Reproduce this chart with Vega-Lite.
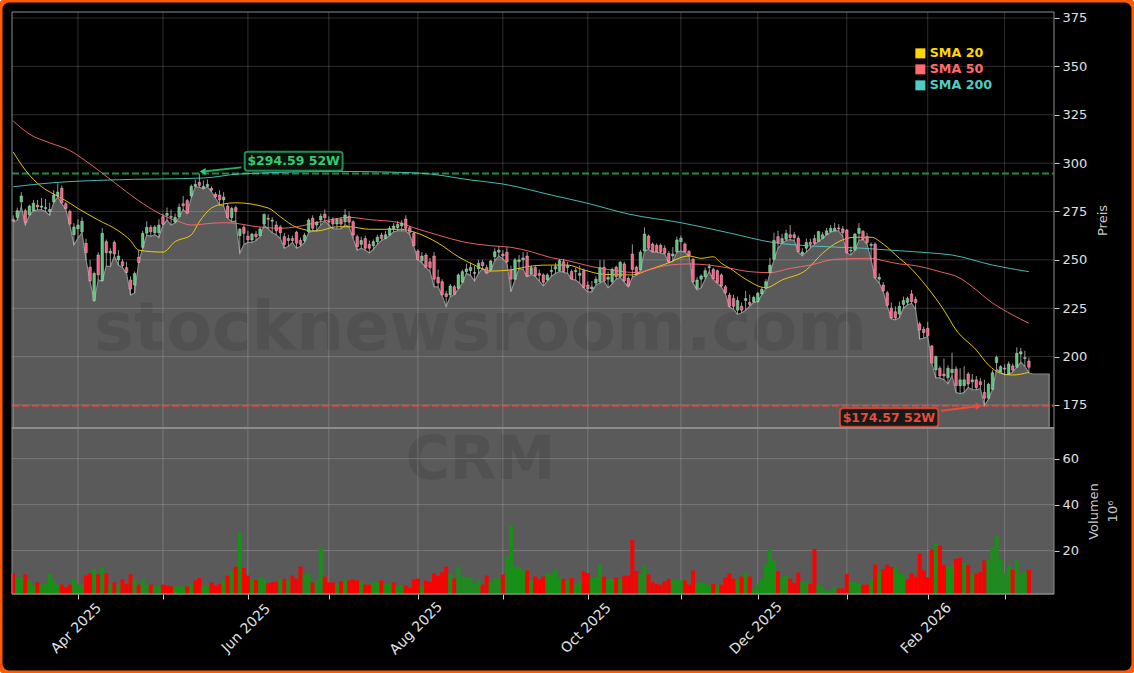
{"$schema":"https://vega.github.io/schema/vega-lite/v6.json","width":1134,"height":673,"padding":0,"autosize":{"type":"none"},"background":"#ffffff",
"config":{"font":"DejaVu Sans","view":{"stroke":"#ff5a00","strokeWidth":5,"cornerRadius":9,"fill":"#000000"}},
"datasets":{
"bars":[
{"t":0,"o":271,"h":273,"l":269.5,"c":270,"v":10.1,"dir":"down"},{"t":1,"o":272,"h":277,"l":270.5,"c":275.4,"v":8.1,"dir":"up"},{"t":2,"o":280,"h":285,"l":277.5,"c":283,"v":8.1,"dir":"up"},{"t":3,"o":275.4,"h":276.5,"l":268,"c":269.4,"v":9.6,"dir":"down"},{"t":4,"o":273.2,"h":278.5,"l":273,"c":277.8,"v":7,"dir":"up"},{"t":5,"o":275.5,"h":281,"l":275.3,"c":279.3,"v":4.8,"dir":"up"},{"t":6,"o":278.3,"h":281,"l":275.8,"c":277.3,"v":6.1,"dir":"down"},{"t":7,"o":277.2,"h":282,"l":275.8,"c":277.8,"v":5.2,"dir":"up"},{"t":8,"o":276.5,"h":281.5,"l":275,"c":277,"v":5.5,"dir":"up"},{"t":9,"o":275,"h":279.5,"l":273,"c":276,"v":9.9,"dir":"up"},
{"t":10,"o":280,"h":286,"l":279.5,"c":283.5,"v":7,"dir":"up"},{"t":11,"o":283,"h":289.5,"l":282.5,"c":285,"v":5,"dir":"up"},{"t":12,"o":287,"h":288.5,"l":279,"c":279.5,"v":5.2,"dir":"down"},{"t":13,"o":279,"h":280,"l":276,"c":276.5,"v":4,"dir":"down"},{"t":14,"o":275,"h":276,"l":268,"c":268.5,"v":5.2,"dir":"down"},{"t":15,"o":263,"h":269,"l":257.7,"c":267,"v":7.7,"dir":"up"},{"t":16,"o":266,"h":271,"l":261.3,"c":268,"v":5.2,"dir":"up"},{"t":17,"o":264.5,"h":272,"l":264,"c":270,"v":5.2,"dir":"up"},{"t":18,"o":258.6,"h":261,"l":250,"c":253.7,"v":9.1,"dir":"down"},{"t":19,"o":246.2,"h":250,"l":238.7,"c":239.2,"v":10.1,"dir":"down"},
{"t":20,"o":229,"h":244,"l":228.4,"c":243,"v":12,"dir":"up"},{"t":21,"o":252.5,"h":254,"l":239.6,"c":242.2,"v":9.6,"dir":"down"},{"t":22,"o":239.3,"h":266.5,"l":239,"c":263.7,"v":12.5,"dir":"up"},{"t":23,"o":259.4,"h":260.5,"l":246.8,"c":253.7,"v":10.1,"dir":"down"},{"t":24,"o":253.5,"h":256,"l":246.5,"c":254.5,"v":5.2,"dir":"up"},{"t":25,"o":259,"h":260,"l":252,"c":253,"v":6.1,"dir":"down"},{"t":26,"o":250,"h":255,"l":247.3,"c":252,"v":5.2,"dir":"up"},{"t":27,"o":249,"h":250.5,"l":246,"c":247,"v":7.5,"dir":"down"},{"t":28,"o":246,"h":249,"l":243,"c":243.5,"v":5.5,"dir":"down"},{"t":29,"o":239.6,"h":241.5,"l":231.8,"c":235,"v":9.6,"dir":"down"},
{"t":30,"o":237,"h":244,"l":232.8,"c":243,"v":7,"dir":"up"},{"t":31,"o":251.3,"h":255,"l":248.5,"c":248.7,"v":5.2,"dir":"down"},{"t":32,"o":256.5,"h":265,"l":256,"c":263.7,"v":7.7,"dir":"up"},{"t":33,"o":263.8,"h":270,"l":262.8,"c":266.8,"v":5.2,"dir":"up"},{"t":34,"o":266.8,"h":268,"l":262.2,"c":264.5,"v":5.2,"dir":"down"},{"t":35,"o":264,"h":268,"l":263,"c":267,"v":4.4,"dir":"up"},{"t":36,"o":264,"h":271,"l":261.5,"c":268,"v":4.8,"dir":"up"},{"t":37,"o":272.3,"h":274,"l":268,"c":268.4,"v":5.2,"dir":"down"},{"t":38,"o":273,"h":277,"l":270.6,"c":274,"v":4.8,"dir":"down"},{"t":39,"o":272,"h":276,"l":268,"c":272.5,"v":4.4,"dir":"down"},
{"t":40,"o":269.5,"h":274,"l":269,"c":272,"v":4.4,"dir":"up"},{"t":41,"o":272.3,"h":279,"l":272,"c":277.2,"v":4.4,"dir":"up"},{"t":42,"o":279,"h":283,"l":276,"c":278,"v":4.4,"dir":"up"},{"t":43,"o":280.6,"h":281.5,"l":274,"c":274.1,"v":4.4,"dir":"down"},{"t":44,"o":283,"h":289,"l":282,"c":288,"v":5.5,"dir":"up"},{"t":45,"o":288,"h":291.5,"l":287.8,"c":289,"v":7,"dir":"down"},{"t":46,"o":290,"h":294.6,"l":287.5,"c":288.5,"v":8.1,"dir":"down"},{"t":47,"o":287,"h":291,"l":286.6,"c":288,"v":4.8,"dir":"up"},{"t":48,"o":288,"h":291.5,"l":287.8,"c":289,"v":4.4,"dir":"up"},{"t":49,"o":287,"h":288,"l":285.2,"c":286,"v":6.1,"dir":"down"},
{"t":50,"o":284,"h":285,"l":282,"c":282.5,"v":4.8,"dir":"down"},{"t":51,"o":283.5,"h":286,"l":278.4,"c":281,"v":5.5,"dir":"down"},{"t":52,"o":281,"h":285,"l":277.8,"c":282.5,"v":7,"dir":"up"},{"t":53,"o":277.8,"h":279,"l":271.5,"c":271.8,"v":9.1,"dir":"down"},{"t":54,"o":271.8,"h":277.5,"l":269.8,"c":276.6,"v":10.6,"dir":"up"},{"t":55,"o":277,"h":278,"l":270,"c":275,"v":13,"dir":"down"},{"t":56,"o":262.5,"h":266.5,"l":253.4,"c":265.8,"v":27.7,"dir":"up"},{"t":57,"o":266.8,"h":268,"l":258,"c":263.7,"v":12.5,"dir":"down"},{"t":58,"o":262.3,"h":265,"l":259,"c":260.3,"v":9.1,"dir":"down"},{"t":59,"o":260.3,"h":264,"l":259,"c":263.3,"v":7.7,"dir":"up"},
{"t":60,"o":263.3,"h":265,"l":260,"c":262,"v":7.2,"dir":"down"},{"t":61,"o":262.5,"h":267,"l":262,"c":266,"v":8.4,"dir":"up"},{"t":62,"o":268.5,"h":274,"l":268,"c":273.5,"v":7.7,"dir":"up"},{"t":63,"o":271.5,"h":273.5,"l":266,"c":271,"v":5.8,"dir":"down"},{"t":64,"o":270,"h":272,"l":264,"c":270.5,"v":6.2,"dir":"down"},{"t":65,"o":268,"h":270,"l":263,"c":265,"v":6.5,"dir":"down"},{"t":66,"o":267,"h":268,"l":261,"c":264,"v":7.7,"dir":"up"},{"t":67,"o":262,"h":264,"l":256,"c":258,"v":7.7,"dir":"down"},{"t":68,"o":261,"h":263,"l":257,"c":260,"v":7.2,"dir":"up"},{"t":69,"o":261,"h":262.5,"l":259,"c":260,"v":9.1,"dir":"down"},
{"t":70,"o":264.3,"h":265,"l":256,"c":258.6,"v":7.7,"dir":"down"},{"t":71,"o":260,"h":261.5,"l":257,"c":258,"v":13,"dir":"down"},{"t":72,"o":259.9,"h":264,"l":259,"c":262.8,"v":9.6,"dir":"up"},{"t":73,"o":264.5,"h":271.5,"l":264,"c":270.6,"v":9.9,"dir":"up"},{"t":74,"o":271.5,"h":273,"l":265,"c":266.3,"v":6.1,"dir":"down"},{"t":75,"o":268,"h":270,"l":265,"c":269.5,"v":7,"dir":"up"},{"t":76,"o":270.6,"h":274,"l":268,"c":272.6,"v":21.4,"dir":"up"},{"t":77,"o":273.6,"h":276,"l":270,"c":271.8,"v":8.7,"dir":"down"},{"t":78,"o":270,"h":272.5,"l":268,"c":269.5,"v":6.2,"dir":"down"},{"t":79,"o":271,"h":272,"l":266,"c":268.5,"v":6.1,"dir":"down"},
{"t":80,"o":268.5,"h":271.5,"l":266,"c":271,"v":5.2,"dir":"up"},{"t":81,"o":271,"h":272,"l":266,"c":268.5,"v":6.7,"dir":"down"},{"t":82,"o":269.7,"h":276.3,"l":268,"c":273.2,"v":7,"dir":"up"},{"t":83,"o":272.5,"h":275,"l":267,"c":269.5,"v":7,"dir":"down"},{"t":84,"o":269.7,"h":270.5,"l":261,"c":262.8,"v":7.4,"dir":"down"},{"t":85,"o":262,"h":263,"l":255,"c":256.8,"v":7,"dir":"down"},{"t":86,"o":258,"h":262,"l":256,"c":260,"v":6.2,"dir":"up"},{"t":87,"o":261,"h":262.5,"l":255,"c":256,"v":5.2,"dir":"down"},{"t":88,"o":258,"h":260,"l":253.5,"c":256,"v":5.2,"dir":"down"},{"t":89,"o":257.3,"h":260.5,"l":255.5,"c":259.4,"v":6.2,"dir":"up"},
{"t":90,"o":259.4,"h":263,"l":258,"c":261.7,"v":6.2,"dir":"up"},{"t":91,"o":262.8,"h":264,"l":260,"c":261,"v":7,"dir":"down"},{"t":92,"o":261,"h":265,"l":261,"c":263,"v":5.5,"dir":"up"},{"t":93,"o":262.8,"h":267.5,"l":262.5,"c":266.3,"v":5.5,"dir":"up"},{"t":94,"o":266,"h":269,"l":264.5,"c":267.5,"v":6.1,"dir":"down"},{"t":95,"o":266.7,"h":270,"l":265,"c":268.4,"v":4.4,"dir":"up"},{"t":96,"o":267.5,"h":270.5,"l":265,"c":269,"v":4.9,"dir":"up"},{"t":97,"o":271.1,"h":273,"l":265,"c":266.3,"v":4.9,"dir":"down"},{"t":98,"o":266.6,"h":267.5,"l":263,"c":264.2,"v":3.8,"dir":"down"},{"t":99,"o":263.7,"h":264.5,"l":257,"c":257.3,"v":7.5,"dir":"down"},
{"t":100,"o":254.6,"h":255.5,"l":250,"c":250.2,"v":7.8,"dir":"down"},{"t":101,"o":249.5,"h":254,"l":248.5,"c":252,"v":4.4,"dir":"up"},{"t":102,"o":252.5,"h":253.5,"l":246,"c":246.2,"v":7,"dir":"down"},{"t":103,"o":249,"h":251,"l":244,"c":246,"v":6.4,"dir":"down"},{"t":104,"o":252,"h":254,"l":236,"c":240,"v":10.1,"dir":"down"},{"t":105,"o":241,"h":245,"l":236,"c":238,"v":9,"dir":"down"},{"t":106,"o":238.7,"h":240,"l":231.5,"c":232,"v":10.6,"dir":"down"},{"t":107,"o":232.5,"h":234,"l":225.8,"c":231,"v":13,"dir":"down"},{"t":108,"o":231.8,"h":237.5,"l":231,"c":236.5,"v":10,"dir":"up"},{"t":109,"o":236.1,"h":237,"l":232,"c":232.2,"v":7.8,"dir":"down"},
{"t":110,"o":235.3,"h":243,"l":235,"c":242.2,"v":13,"dir":"up"},{"t":111,"o":238.4,"h":245,"l":238,"c":243.9,"v":8.8,"dir":"up"},{"t":112,"o":243.9,"h":248,"l":243,"c":245.3,"v":8.4,"dir":"up"},{"t":113,"o":244.5,"h":248.5,"l":242,"c":246,"v":8.1,"dir":"up"},{"t":114,"o":243,"h":247,"l":239,"c":243.5,"v":5.5,"dir":"up"},{"t":115,"o":245.3,"h":250,"l":243,"c":248.2,"v":7,"dir":"up"},{"t":116,"o":248.7,"h":250,"l":245.6,"c":247,"v":5.2,"dir":"down"},{"t":117,"o":246,"h":247.5,"l":243,"c":243.2,"v":9.1,"dir":"down"},{"t":118,"o":244.8,"h":250,"l":244.5,"c":249.4,"v":6.4,"dir":"up"},{"t":119,"o":251.6,"h":256,"l":249.5,"c":254.2,"v":8.4,"dir":"up"},
{"t":120,"o":254,"h":257,"l":252,"c":255,"v":7.7,"dir":"up"},{"t":121,"o":253,"h":255,"l":250.5,"c":252,"v":9.6,"dir":"down"},{"t":122,"o":254,"h":256.5,"l":248.4,"c":249,"v":17.4,"dir":"up"},{"t":123,"o":244.8,"h":247,"l":233.5,"c":240,"v":30.7,"dir":"up"},{"t":124,"o":240,"h":251,"l":239.6,"c":250,"v":13,"dir":"up"},{"t":125,"o":249,"h":252.5,"l":245.6,"c":250,"v":12.5,"dir":"up"},{"t":126,"o":250,"h":254,"l":245,"c":251,"v":11.3,"dir":"up"},{"t":127,"o":252,"h":254,"l":241.3,"c":241.5,"v":11.3,"dir":"down"},{"t":128,"o":242.7,"h":247,"l":242.5,"c":246,"v":7,"dir":"up"},{"t":129,"o":246,"h":247,"l":241.5,"c":241.8,"v":8.7,"dir":"down"},
{"t":130,"o":243,"h":245,"l":239,"c":242,"v":7.5,"dir":"down"},{"t":131,"o":242.2,"h":243,"l":236.6,"c":238.4,"v":8.7,"dir":"down"},{"t":132,"o":239.6,"h":243,"l":239,"c":242.2,"v":10.4,"dir":"up"},{"t":133,"o":244,"h":247,"l":241.5,"c":244.5,"v":9.6,"dir":"up"},{"t":134,"o":245.3,"h":248.5,"l":243,"c":246.5,"v":11.9,"dir":"up"},{"t":135,"o":244.4,"h":250.5,"l":244,"c":249.6,"v":8,"dir":"up"},{"t":136,"o":249,"h":250.5,"l":243.5,"c":244,"v":7.7,"dir":"down"},{"t":137,"o":246,"h":249,"l":243,"c":247,"v":7,"dir":"up"},{"t":138,"o":244,"h":245,"l":240,"c":240.1,"v":8.1,"dir":"down"},{"t":139,"o":244,"h":246,"l":239.5,"c":244.5,"v":5.2,"dir":"up"},
{"t":140,"o":242,"h":247,"l":238,"c":243,"v":6.2,"dir":"up"},{"t":141,"o":244.4,"h":245.5,"l":235.5,"c":235.8,"v":11,"dir":"down"},{"t":142,"o":237,"h":239,"l":233.5,"c":235,"v":10.1,"dir":"down"},{"t":143,"o":235,"h":239,"l":233.5,"c":236,"v":8.1,"dir":"up"},{"t":144,"o":238,"h":241.5,"l":237,"c":240,"v":8.4,"dir":"up"},{"t":145,"o":238.7,"h":250,"l":238,"c":246,"v":13.9,"dir":"up"},{"t":146,"o":246.2,"h":250,"l":239,"c":239.2,"v":8.7,"dir":"down"},{"t":147,"o":240,"h":244,"l":235.5,"c":241,"v":7.5,"dir":"up"},{"t":148,"o":238.7,"h":246,"l":237.5,"c":245.1,"v":7.7,"dir":"up"},{"t":149,"o":246.2,"h":247,"l":240,"c":241.3,"v":8.3,"dir":"down"},
{"t":150,"o":241.3,"h":249.5,"l":241,"c":248.7,"v":7.7,"dir":"up"},{"t":151,"o":247.9,"h":249,"l":238.5,"c":239.2,"v":9.1,"dir":"down"},{"t":152,"o":240.5,"h":241.5,"l":236,"c":236.5,"v":9.1,"dir":"down"},{"t":153,"o":253,"h":258,"l":241,"c":245.1,"v":24.6,"dir":"down"},{"t":154,"o":246.2,"h":247,"l":242,"c":243,"v":11,"dir":"down"},{"t":155,"o":244.8,"h":255,"l":244.5,"c":254,"v":10,"dir":"up"},{"t":156,"o":254.6,"h":266.8,"l":254.5,"c":263.3,"v":13.5,"dir":"up"},{"t":157,"o":262.3,"h":263,"l":255.5,"c":256,"v":9.6,"dir":"down"},{"t":158,"o":258.2,"h":259,"l":254,"c":254.2,"v":6.2,"dir":"down"},{"t":159,"o":257.5,"h":258.5,"l":254,"c":254.2,"v":5.5,"dir":"down"},
{"t":160,"o":257.5,"h":258.5,"l":253.5,"c":254.2,"v":5.2,"dir":"down"},{"t":161,"o":256,"h":257.5,"l":253,"c":253.5,"v":6.7,"dir":"down"},{"t":162,"o":253.4,"h":254.5,"l":248.5,"c":249,"v":7.7,"dir":"down"},{"t":163,"o":252,"h":256.6,"l":249,"c":253,"v":7.7,"dir":"up"},{"t":164,"o":254.2,"h":262,"l":254,"c":260.3,"v":7,"dir":"up"},{"t":165,"o":259.4,"h":262.5,"l":254.5,"c":261.2,"v":7.2,"dir":"up"},{"t":166,"o":258.2,"h":259,"l":254,"c":254.2,"v":7,"dir":"down"},{"t":167,"o":254.4,"h":255,"l":252,"c":252.2,"v":5.2,"dir":"down"},{"t":168,"o":250.3,"h":251,"l":238,"c":238.7,"v":11.3,"dir":"down"},{"t":169,"o":235.3,"h":241,"l":234.5,"c":239.6,"v":5.8,"dir":"up"},
{"t":170,"o":240,"h":242.5,"l":235.5,"c":241.7,"v":6.2,"dir":"up"},{"t":171,"o":241.3,"h":246,"l":240,"c":244.4,"v":5.8,"dir":"up"},{"t":172,"o":246,"h":248,"l":244,"c":246.5,"v":4.8,"dir":"up"},{"t":173,"o":245.1,"h":246,"l":240,"c":240.2,"v":5.5,"dir":"down"},{"t":174,"o":244.4,"h":245,"l":238,"c":238.2,"v":4.9,"dir":"up"},{"t":175,"o":242.2,"h":243,"l":236,"c":236.5,"v":5.2,"dir":"down"},{"t":176,"o":236.1,"h":237,"l":232.5,"c":233,"v":8.4,"dir":"down"},{"t":177,"o":231.8,"h":233,"l":225.5,"c":226,"v":10.1,"dir":"down"},{"t":178,"o":230,"h":232,"l":224.5,"c":226,"v":7.7,"dir":"down"},{"t":179,"o":224,"h":231,"l":221.8,"c":229,"v":7.2,"dir":"up"},
{"t":180,"o":226,"h":228,"l":222.5,"c":224,"v":8.7,"dir":"down"},{"t":181,"o":229,"h":234,"l":224,"c":230,"v":10.4,"dir":"up"},{"t":182,"o":228,"h":232,"l":226,"c":227,"v":8.7,"dir":"down"},{"t":183,"o":228.2,"h":231.5,"l":228,"c":230.6,"v":3.3,"dir":"up"},{"t":184,"o":228.4,"h":233.5,"l":228.3,"c":232.7,"v":5.2,"dir":"up"},{"t":185,"o":232.4,"h":236,"l":232,"c":234.8,"v":7.7,"dir":"up"},{"t":186,"o":235.3,"h":240,"l":235.2,"c":238.7,"v":13.9,"dir":"up"},{"t":187,"o":243.4,"h":251,"l":243,"c":247.3,"v":20.7,"dir":"up"},{"t":188,"o":250.3,"h":264,"l":250,"c":260,"v":15.7,"dir":"up"},{"t":189,"o":262,"h":265,"l":256,"c":258.9,"v":11,"dir":"down"},
{"t":190,"o":259,"h":263.5,"l":258.5,"c":261,"v":8.4,"dir":"up"},{"t":191,"o":260.6,"h":265.5,"l":260,"c":263.7,"v":9,"dir":"up"},{"t":192,"o":263,"h":268,"l":260.5,"c":261.5,"v":7.8,"dir":"down"},{"t":193,"o":263,"h":264.5,"l":260,"c":261.5,"v":5.8,"dir":"down"},{"t":194,"o":261.2,"h":262.5,"l":254,"c":254.2,"v":10.4,"dir":"down"},{"t":195,"o":253,"h":256,"l":252,"c":254,"v":6.4,"dir":"up"},{"t":196,"o":256,"h":261,"l":254,"c":259,"v":6.4,"dir":"up"},{"t":197,"o":259,"h":261,"l":256,"c":258,"v":5.5,"dir":"down"},{"t":198,"o":261,"h":263,"l":258,"c":258.5,"v":20.7,"dir":"down"},{"t":199,"o":259.6,"h":265,"l":259.5,"c":264.6,"v":5.2,"dir":"up"},
{"t":200,"o":261,"h":264.5,"l":261,"c":263,"v":4.4,"dir":"up"},{"t":201,"o":263,"h":266.5,"l":263,"c":265,"v":2.3,"dir":"up"},{"t":202,"o":264.6,"h":268,"l":264.3,"c":266.3,"v":2.9,"dir":"up"},{"t":203,"o":265,"h":269.2,"l":265,"c":266.3,"v":4,"dir":"up"},{"t":204,"o":266.5,"h":268.5,"l":265,"c":266,"v":3.5,"dir":"down"},{"t":205,"o":266,"h":267.5,"l":262,"c":264,"v":3.5,"dir":"down"},{"t":206,"o":265.4,"h":266,"l":253.5,"c":253.7,"v":9.9,"dir":"down"},{"t":207,"o":254.5,"h":257,"l":252.5,"c":255,"v":6.4,"dir":"up"},{"t":208,"o":255,"h":264,"l":255,"c":263.3,"v":6.1,"dir":"up"},{"t":209,"o":263.7,"h":269,"l":260,"c":266.3,"v":5.8,"dir":"up"},
{"t":210,"o":264.7,"h":265.5,"l":260.5,"c":260.6,"v":5.2,"dir":"down"},{"t":211,"o":262,"h":264,"l":258,"c":259,"v":5.2,"dir":"down"},{"t":212,"o":257.5,"h":259,"l":250,"c":258,"v":7.5,"dir":"up"},{"t":213,"o":258.2,"h":259,"l":240.5,"c":240.6,"v":13.9,"dir":"down"},{"t":214,"o":240,"h":243,"l":238,"c":241,"v":10.6,"dir":"up"},{"t":215,"o":237,"h":238.5,"l":233.5,"c":234,"v":12,"dir":"down"},{"t":216,"o":233,"h":234,"l":226,"c":226.5,"v":13.9,"dir":"down"},{"t":217,"o":225,"h":228,"l":219.5,"c":220,"v":12.8,"dir":"down"},{"t":218,"o":223.2,"h":226,"l":219,"c":220,"v":12.5,"dir":"up"},{"t":219,"o":222,"h":228.4,"l":220,"c":226,"v":9.9,"dir":"up"},
{"t":220,"o":227,"h":231,"l":225,"c":229,"v":9.6,"dir":"up"},{"t":221,"o":228,"h":231,"l":226.8,"c":230,"v":7.4,"dir":"down"},{"t":222,"o":232.4,"h":234.4,"l":227.5,"c":228.4,"v":10.1,"dir":"down"},{"t":223,"o":229.6,"h":231,"l":224.5,"c":227.9,"v":8.7,"dir":"down"},{"t":224,"o":216.9,"h":218,"l":209,"c":213.8,"v":18.8,"dir":"down"},{"t":225,"o":214.1,"h":215.5,"l":209.5,"c":212.4,"v":11.3,"dir":"down"},{"t":226,"o":214.6,"h":218,"l":210.5,"c":210.8,"v":8.4,"dir":"down"},{"t":227,"o":205.5,"h":206,"l":196.5,"c":196.6,"v":20.4,"dir":"down"},{"t":228,"o":193.1,"h":200.5,"l":189,"c":200,"v":23.2,"dir":"up"},{"t":229,"o":194,"h":195,"l":189,"c":190,"v":22.2,"dir":"down"},
{"t":230,"o":191,"h":199,"l":188,"c":190,"v":13.8,"dir":"down"},{"t":231,"o":189.1,"h":195.5,"l":186,"c":194,"v":12.8,"dir":"up"},{"t":232,"o":191.7,"h":202,"l":190,"c":193.4,"v":13.5,"dir":"up"},{"t":233,"o":193.6,"h":195,"l":181.5,"c":185,"v":16.4,"dir":"down"},{"t":234,"o":185,"h":194,"l":180.8,"c":188,"v":16.8,"dir":"down"},{"t":235,"o":185,"h":195,"l":181.5,"c":188,"v":14.5,"dir":"up"},{"t":236,"o":191,"h":192,"l":184,"c":185.8,"v":13.8,"dir":"down"},{"t":237,"o":187,"h":191,"l":183,"c":188,"v":9.9,"dir":"up"},{"t":238,"o":188,"h":190,"l":182.8,"c":184,"v":9.9,"dir":"down"},{"t":239,"o":187,"h":189,"l":183.5,"c":185.5,"v":10.6,"dir":"down"},
{"t":240,"o":181.5,"h":188,"l":174.6,"c":178.5,"v":15.7,"dir":"down"},{"t":241,"o":178.5,"h":186.5,"l":178,"c":185.7,"v":15.9,"dir":"up"},{"t":242,"o":183.1,"h":193,"l":183,"c":191.7,"v":21.4,"dir":"up"},{"t":243,"o":196.9,"h":200.5,"l":193.5,"c":199.6,"v":26.5,"dir":"up"},{"t":244,"o":192.2,"h":195.5,"l":192,"c":194.8,"v":16.2,"dir":"up"},{"t":245,"o":194,"h":196,"l":190.5,"c":193.5,"v":10,"dir":"up"},{"t":246,"o":191,"h":197.5,"l":190.8,"c":196.2,"v":13.5,"dir":"up"},{"t":247,"o":195.2,"h":196.5,"l":192,"c":193,"v":11.7,"dir":"down"},{"t":248,"o":194.5,"h":204.8,"l":194.4,"c":201.7,"v":15.7,"dir":"up"},{"t":249,"o":201.3,"h":204.5,"l":197,"c":202.5,"v":9.9,"dir":"up"},
{"t":250,"o":199,"h":203,"l":195,"c":199.5,"v":10.9,"dir":"up"},{"t":251,"o":197.7,"h":199.5,"l":191.5,"c":194.5,"v":11.6,"dir":"down"},
{"t":252,"l":191},{"t":253,"l":191},{"t":254,"l":191},{"t":255,"l":191},{"t":256,"l":191}],
"sma":[
{"t":0,"s":"SMA 20","p":305.7},{"t":3,"s":"SMA 20","p":296.4},{"t":7,"s":"SMA 20","p":287.8},{"t":10,"s":"SMA 20","p":284},{"t":13,"s":"SMA 20","p":280.6},{"t":16,"s":"SMA 20","p":276.6},{"t":21,"s":"SMA 20","p":270.6},{"t":26,"s":"SMA 20","p":265},{"t":29,"s":"SMA 20","p":259.9},{"t":31,"s":"SMA 20","p":255},{"t":37,"s":"SMA 20","p":254},{"t":40,"s":"SMA 20","p":259.4},{"t":44,"s":"SMA 20","p":262.9},{"t":46,"s":"SMA 20","p":269.7},{"t":49,"s":"SMA 20","p":276.8},{"t":52,"s":"SMA 20","p":278.9},{"t":55,"s":"SMA 20","p":279.5},{"t":63,"s":"SMA 20","p":276.8},{"t":66,"s":"SMA 20","p":272.3},{"t":70,"s":"SMA 20","p":266.8},{"t":75,"s":"SMA 20","p":264.9},{"t":80,"s":"SMA 20","p":267.1},{"t":83,"s":"SMA 20","p":267.1},{"t":88,"s":"SMA 20","p":265.8},{"t":96,"s":"SMA 20","p":265.8},{"t":99,"s":"SMA 20","p":264.4},{"t":105,"s":"SMA 20","p":258.7},{"t":110,"s":"SMA 20","p":251.6},{"t":114,"s":"SMA 20","p":247.3},{"t":118,"s":"SMA 20","p":244.2},{"t":123,"s":"SMA 20","p":244.8},{"t":127,"s":"SMA 20","p":246.5},{"t":132,"s":"SMA 20","p":247.3},{"t":137,"s":"SMA 20","p":247.3},{"t":141,"s":"SMA 20","p":244.8},{"t":146,"s":"SMA 20","p":242.5},{"t":153,"s":"SMA 20","p":242.2},{"t":157,"s":"SMA 20","p":244.8},{"t":161,"s":"SMA 20","p":247.7},{"t":167,"s":"SMA 20","p":252},{"t":170,"s":"SMA 20","p":250.8},{"t":173,"s":"SMA 20","p":251.6},{"t":175,"s":"SMA 20","p":248.2},{"t":177,"s":"SMA 20","p":245.8},{"t":181,"s":"SMA 20","p":240},{"t":186,"s":"SMA 20","p":235.6},{"t":190,"s":"SMA 20","p":239.6},{"t":196,"s":"SMA 20","p":244.8},{"t":200,"s":"SMA 20","p":253.4},{"t":204,"s":"SMA 20","p":259.4},{"t":208,"s":"SMA 20","p":261.7},{"t":212,"s":"SMA 20","p":261.7},{"t":215,"s":"SMA 20","p":258.2},{"t":219,"s":"SMA 20","p":250.8},{"t":221,"s":"SMA 20","p":247.3},{"t":226,"s":"SMA 20","p":235.5},{"t":230,"s":"SMA 20","p":224},{"t":233,"s":"SMA 20","p":213.8},{"t":238,"s":"SMA 20","p":203.4},{"t":241,"s":"SMA 20","p":195.7},{"t":244,"s":"SMA 20","p":191.4},{"t":247,"s":"SMA 20","p":190.5},{"t":251,"s":"SMA 20","p":191.9},
{"t":0,"s":"SMA 50","p":321.8},{"t":4,"s":"SMA 50","p":315},{"t":9,"s":"SMA 50","p":310.5},{"t":14,"s":"SMA 50","p":306.5},{"t":18,"s":"SMA 50","p":301},{"t":21,"s":"SMA 50","p":296.4},{"t":25,"s":"SMA 50","p":290},{"t":31,"s":"SMA 50","p":280.6},{"t":36,"s":"SMA 50","p":274.1},{"t":41,"s":"SMA 50","p":269.7},{"t":44,"s":"SMA 50","p":268},{"t":49,"s":"SMA 50","p":268.9},{"t":52,"s":"SMA 50","p":269.2},{"t":55,"s":"SMA 50","p":268.9},{"t":59,"s":"SMA 50","p":267.5},{"t":66,"s":"SMA 50","p":266.3},{"t":70,"s":"SMA 50","p":267.1},{"t":76,"s":"SMA 50","p":269.7},{"t":83,"s":"SMA 50","p":272},{"t":88,"s":"SMA 50","p":270.8},{"t":95,"s":"SMA 50","p":269.4},{"t":99,"s":"SMA 50","p":266.6},{"t":105,"s":"SMA 50","p":262.8},{"t":111,"s":"SMA 50","p":259.4},{"t":118,"s":"SMA 50","p":257.3},{"t":123,"s":"SMA 50","p":256.5},{"t":128,"s":"SMA 50","p":254.2},{"t":133,"s":"SMA 50","p":251.1},{"t":137,"s":"SMA 50","p":249.6},{"t":143,"s":"SMA 50","p":246.5},{"t":149,"s":"SMA 50","p":244.4},{"t":154,"s":"SMA 50","p":243.4},{"t":157,"s":"SMA 50","p":244.8},{"t":162,"s":"SMA 50","p":247.3},{"t":167,"s":"SMA 50","p":247.9},{"t":172,"s":"SMA 50","p":247.3},{"t":177,"s":"SMA 50","p":245.7},{"t":182,"s":"SMA 50","p":243.9},{"t":187,"s":"SMA 50","p":243.4},{"t":192,"s":"SMA 50","p":245.6},{"t":197,"s":"SMA 50","p":247.3},{"t":203,"s":"SMA 50","p":250.3},{"t":212,"s":"SMA 50","p":250.8},{"t":215,"s":"SMA 50","p":249.6},{"t":219,"s":"SMA 50","p":247.9},{"t":222,"s":"SMA 50","p":247.3},{"t":229,"s":"SMA 50","p":243.9},{"t":234,"s":"SMA 50","p":240.5},{"t":237,"s":"SMA 50","p":236.1},{"t":242,"s":"SMA 50","p":227.7},{"t":247,"s":"SMA 50","p":221.5},{"t":251,"s":"SMA 50","p":217.2},
{"t":0,"s":"SMA 200","p":287.8},{"t":10,"s":"SMA 200","p":289.9},{"t":24,"s":"SMA 200","p":291.3},{"t":47,"s":"SMA 200","p":292.3},{"t":56,"s":"SMA 200","p":294.4},{"t":80,"s":"SMA 200","p":295.7},{"t":100,"s":"SMA 200","p":294.9},{"t":113,"s":"SMA 200","p":291.3},{"t":121,"s":"SMA 200","p":289.2},{"t":133,"s":"SMA 200","p":283.5},{"t":142,"s":"SMA 200","p":279.2},{"t":152,"s":"SMA 200","p":273.7},{"t":165,"s":"SMA 200","p":269.2},{"t":177,"s":"SMA 200","p":263.9},{"t":188,"s":"SMA 200","p":258.9},{"t":197,"s":"SMA 200","p":257.2},{"t":210,"s":"SMA 200","p":256},{"t":219,"s":"SMA 200","p":254.7},{"t":226,"s":"SMA 200","p":253.7},{"t":232,"s":"SMA 200","p":252.5},{"t":242,"s":"SMA 200","p":247.3},{"t":251,"s":"SMA 200","p":243.9}],
"vticks":[{"t":16},{"t":37},{"t":58},{"t":78},{"t":100},{"t":121},{"t":142},{"t":165},{"t":184},{"t":206},{"t":226},{"t":245}],
"priceGrid":[{"t":-0.3,"t2":257.2,"p":175},{"t":-0.3,"t2":257.2,"p":200},{"t":-0.3,"t2":257.2,"p":225},{"t":-0.3,"t2":257.2,"p":250},{"t":-0.3,"t2":257.2,"p":275},{"t":-0.3,"t2":257.2,"p":300},{"t":-0.3,"t2":257.2,"p":325},{"t":-0.3,"t2":257.2,"p":350},{"t":-0.3,"t2":257.2,"p":375}],
"volGrid":[{"t":-0.3,"t2":257.2,"p":20},{"t":-0.3,"t2":257.2,"p":40},{"t":-0.3,"t2":257.2,"p":60}],
"edges":[{"t":-0.3},{"t":257.2}],
"span":[{"t":-0.3,"t2":257.2}],
"levels":[{"t":-0.3,"t2":257.2,"p":294.59,"kind":"high"},{"t":-0.3,"t2":257.2,"p":174.57,"kind":"low"}],
"boxes":[{"t":57.2,"t2":81.4,"p":305.9,"p2":296.1,"kind":"high"},{"t":204.3,"t2":228.6,"p":173.3,"p2":163.8,"kind":"low"}],
"arrows":[{"t":56.4,"t2":47.5,"p":297.8,"p2":295.8,"kind":"high"},{"t":229.3,"t2":237.9,"p":172,"p2":174.2,"kind":"low"}],
"heads":[{"t":46.8,"p":295.7,"kind":"high"},{"t":238.6,"p":174.4,"kind":"low"}],
"notes":[{"t":69.3,"p":301,"label":"$294.59 52W","kind":"high"},{"t":216.4,"p":168.5,"label":"$174.57 52W","kind":"low"}],
"mark1":[{"t":115.5,"p":214,"label":"stocknewsroom.com"}],
"mark2":[{"t":115.5,"p":59,"label":"CRM"}]
},
"encoding":{"x":{"field":"t","type":"quantitative","scale":{"domain":[-0.3,257.2],"range":[12,1054],"nice":false,"zero":false,"padding":0},"axis":{"title":null,"orient":"bottom","offset":-79,"domain":false,"grid":false,"values":[16,37,58,78,100,121,142,165,184,206,226,245],"labelExpr":"{'16':'Apr 2025','58':'Jun 2025','100':'Aug 2025','142':'Oct 2025','184':'Dec 2025','226':'Feb 2026'}[''+datum.value]||''","labelAngle":-45,"labelAlign":"center","labelBaseline":"middle","labelPadding":29,"labelOffset":-2,"labelFontSize":14,"labelColor":"#e0e0e0","labelOverlap":false,"labelBound":false,"labelFlush":false,"tickColor":"#cccccc","tickSize":5}}},
"resolve":{"scale":{"y":"independent","color":"independent"}},
"layer":[
{"layer":[
{"data":{"name":"bars"},"mark":{"type":"area","fill":"#5a5a5a","stroke":"#8c8c8c","strokeWidth":1.2},"encoding":{"y":{"field":"l","type":"quantitative","scale":{"domain":[163.1,378.1],"range":[428,12],"nice":false,"zero":false},"axis":{"title":"Preis","orient":"right","offset":-80,"grid":false,"domain":false,"values":[175,200,225,250,275,300,325,350,375],"labelFontSize":13,"labelColor":"#e0e0e0","tickColor":"#cccccc","tickSize":5,"labelPadding":3,"titleFontSize":13,"titleFontWeight":"normal","titleColor":"#c8c8c8","titleAngle":-90,"titlePadding":23}},"y2":{"datum":163.1}}},
{"data":{"name":"mark1"},"mark":{"type":"text","font":"DejaVu Sans","fontWeight":"bold","fontSize":67,"fill":"#000000","opacity":0.09},"encoding":{"y":{"field":"p","type":"quantitative"},"text":{"field":"label"}}},
{"data":{"name":"priceGrid"},"mark":{"type":"rule","stroke":"#ffffff","strokeOpacity":0.18,"strokeWidth":1},"encoding":{"x2":{"field":"t2"},"y":{"field":"p","type":"quantitative"}}},
{"data":{"name":"vticks"},"mark":{"type":"rule","stroke":"#ffffff","strokeOpacity":0.18,"strokeWidth":1},"encoding":{"y":{"datum":378.1},"y2":{"datum":163.1}}},
{"data":{"name":"levels"},"mark":{"type":"rule","strokeDash":[7,3],"strokeWidth":2,"opacity":0.8},"encoding":{"x2":{"field":"t2"},"y":{"field":"p","type":"quantitative"},"stroke":{"field":"kind","type":"nominal","legend":null,"scale":{"domain":["high","low"],"range":["#27ae60","#e74c3c"]}}}},
{"data":{"name":"sma"},"mark":{"type":"line","interpolate":"monotone","strokeWidth":1,"opacity":0.9},"encoding":{"y":{"field":"p","type":"quantitative"},"color":{"field":"s","type":"nominal","scale":{"domain":["SMA 20","SMA 50","SMA 200"],"range":["#ffd700","#ff6b6b","#4ecdc4"]},"legend":{"title":null,"orient":"none","legendX":914,"legendY":47,"symbolType":"square","symbolSize":100,"symbolStrokeWidth":0,"rowPadding":2,"labelFontSize":12.7,"labelFontWeight":"bold","labelOffset":3,"encoding":{"symbols":{"fill":{"value":{"expr":"datum.value=='SMA 20'?'#ffd700':datum.value=='SMA 50'?'#ff6b6b':'#4ecdc4'"}},"opacity":{"value":1}},"labels":{"fill":{"value":{"expr":"datum.value=='SMA 20'?'#ffd700':datum.value=='SMA 50'?'#ff6b6b':'#4ecdc4'"}}}}}}}},
{"data":{"name":"bars"},"transform":[{"filter":"isValid(datum.o)"}],"mark":{"type":"rule","stroke":"#bdbdbd","strokeWidth":0.8},"encoding":{"y":{"field":"l","type":"quantitative"},"y2":{"field":"h"}}},
{"data":{"name":"bars"},"transform":[{"filter":"isValid(datum.o)"}],"mark":{"type":"bar","size":2.6,"stroke":"#dddddd","strokeWidth":0.4,"orient":"vertical"},"encoding":{"y":{"field":"o","type":"quantitative"},"y2":{"field":"c"},"color":{"condition":{"test":"datum.c>=datum.o","value":"#58c878"},"value":"#ff5a80"}}},
{"data":{"name":"arrows"},"mark":{"type":"rule","strokeWidth":2},"encoding":{"x2":{"field":"t2"},"y":{"field":"p","type":"quantitative"},"y2":{"field":"p2"},"stroke":{"field":"kind","type":"nominal","legend":null}}},
{"data":{"name":"heads"},"transform":[{"filter":"datum.kind=='high'"}],"mark":{"type":"point","shape":"triangle-left","filled":true,"size":50,"opacity":1},"encoding":{"y":{"field":"p","type":"quantitative"},"fill":{"field":"kind","type":"nominal","legend":null,"scale":{"domain":["high","low"],"range":["#2ecc71","#e74c3c"]}}}},
{"data":{"name":"heads"},"transform":[{"filter":"datum.kind=='low'"}],"mark":{"type":"point","shape":"triangle-right","filled":true,"size":50,"opacity":1},"encoding":{"y":{"field":"p","type":"quantitative"},"fill":{"field":"kind","type":"nominal","legend":null}}},
{"data":{"name":"boxes"},"mark":{"type":"rect","fill":"#101410","fillOpacity":0.9,"strokeWidth":2,"strokeOpacity":0.8,"cornerRadius":3},"encoding":{"x2":{"field":"t2"},"y":{"field":"p","type":"quantitative"},"y2":{"field":"p2"},"stroke":{"field":"kind","type":"nominal","legend":null}}},
{"data":{"name":"notes"},"mark":{"type":"text","font":"DejaVu Sans","fontWeight":"bold","fontSize":12.5},"encoding":{"y":{"field":"p","type":"quantitative"},"text":{"field":"label"},"fill":{"field":"kind","type":"nominal","legend":null}}}
]},
{"layer":[
{"data":{"name":"span"},"mark":{"type":"rect","fill":"#5a5a5a"},"encoding":{"x2":{"field":"t2"},"y":{"datum":1.1,"type":"quantitative","scale":{"domain":[1.1,73.3],"range":[594,428],"nice":false,"zero":false},"axis":{"title":["Volumen","10⁶"],"orient":"right","offset":-80,"grid":false,"domain":false,"values":[20,40,60],"labelFontSize":13,"labelColor":"#e0e0e0","tickColor":"#cccccc","tickSize":5,"labelPadding":3,"titleFontSize":13,"titleFontWeight":"normal","titleColor":"#c8c8c8","titleAngle":-90,"titlePadding":3,"titleLineHeight":19}},"y2":{"datum":73.3}}},
{"data":{"name":"mark2"},"mark":{"type":"text","font":"DejaVu Sans","fontWeight":"bold","fontSize":60,"fill":"#000000","opacity":0.09},"encoding":{"y":{"field":"p","type":"quantitative"},"text":{"field":"label"}}},
{"data":{"name":"volGrid"},"mark":{"type":"rule","stroke":"#ffffff","strokeOpacity":0.18,"strokeWidth":1},"encoding":{"x2":{"field":"t2"},"y":{"field":"p","type":"quantitative"}}},
{"data":{"name":"vticks"},"mark":{"type":"rule","stroke":"#ffffff","strokeOpacity":0.18,"strokeWidth":1},"encoding":{"y":{"datum":73.3},"y2":{"datum":1.1}}},
{"data":{"name":"bars"},"transform":[{"filter":"isValid(datum.v)"}],"mark":{"type":"bar","size":4,"orient":"vertical"},"encoding":{"y":{"field":"v","type":"quantitative"},"y2":{"datum":1.1},"color":{"field":"dir","type":"nominal","legend":null,"scale":{"domain":["up","down"],"range":["#189018","#fe0000"]}}}},
{"data":{"name":"edges"},"mark":{"type":"rule","stroke":"#8c8c8c","strokeWidth":1},"encoding":{"y":{"datum":73.3},"y2":{"datum":1.1}}},
{"data":{"name":"span"},"mark":{"type":"rule","stroke":"#8c8c8c","strokeWidth":2},"encoding":{"x2":{"field":"t2"},"y":{"datum":73.3}}},
{"data":{"name":"span"},"mark":{"type":"rule","stroke":"#8c8c8c","strokeWidth":1.5},"encoding":{"x2":{"field":"t2"},"y":{"datum":1.1}}}
]},
{"layer":[
{"data":{"name":"edges"},"mark":{"type":"rule","stroke":"#8c8c8c","strokeWidth":1},"encoding":{"y":{"datum":378.1,"type":"quantitative","scale":{"domain":[163.1,378.1],"range":[428,12],"nice":false,"zero":false},"axis":null},"y2":{"datum":163.1}}},
{"data":{"name":"span"},"mark":{"type":"rule","stroke":"#8c8c8c","strokeWidth":1},"encoding":{"x2":{"field":"t2"},"y":{"datum":378.1}}}
]}
]}
